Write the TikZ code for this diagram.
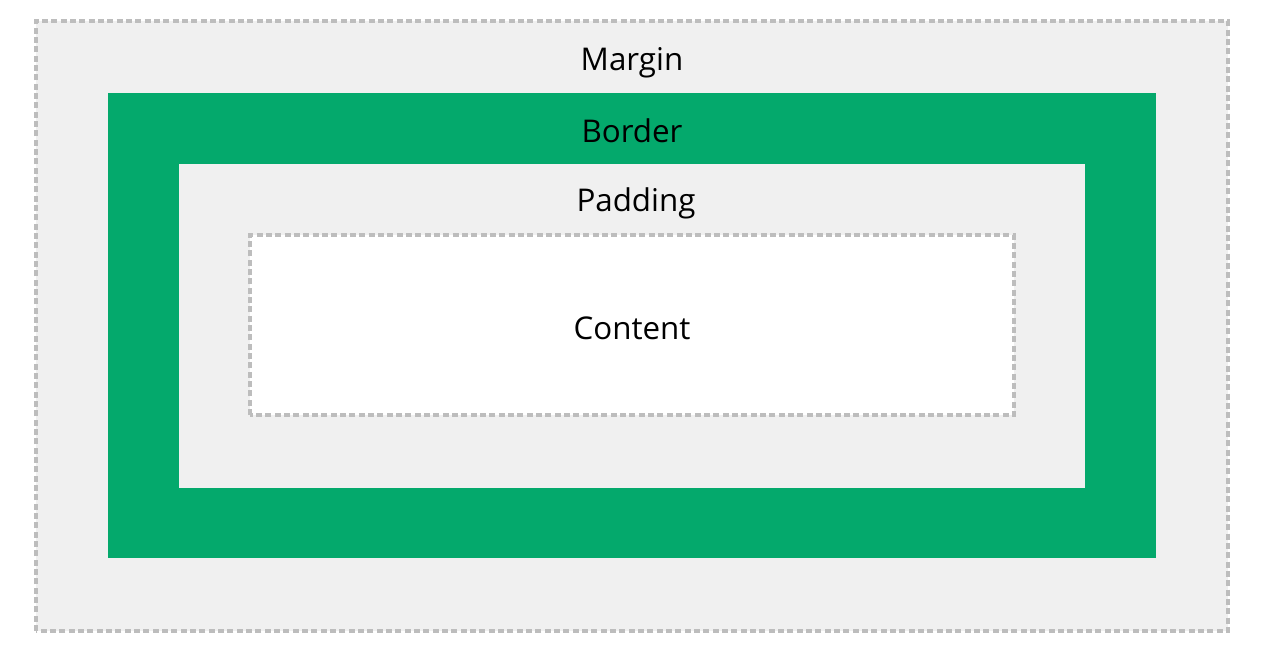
\documentclass[tikz,border=0pt]{standalone}
\usepackage{fontspec}
\setmainfont{Open Sans}
\definecolor{boxgris}{HTML}{F0F0F0}
\definecolor{bordegris}{HTML}{BDBDBD}
\definecolor{bordeverde}{HTML}{04A96C}
\begin{document}
\begin{tikzpicture}[x=0.75pt,y=0.75pt,
        caja/.style={draw=bordegris,line width=2.4pt,dash pattern=on 4.5pt off 2.5pt},
        etiqueta/.style={font=\fontsize{23.5}{28}\selectfont,text=black}]
        % Marco de la figura
        \useasboundingbox (0,0) rectangle (1263,654);
        % Margen (exterior, linea discontinua)
        \fill[boxgris] (36,23) rectangle (1228,633);
        \draw[caja] (36,23) rectangle (1228,633);
        % Borde (verde)
        \fill[bordeverde] (108,96) rectangle (1156,561);
        % Relleno
        \fill[boxgris] (179,166) rectangle (1085,490);
        % Contenido (blanco, linea discontinua)
        \fill[white] (250,239) rectangle (1014,419);
        \draw[caja] (250,239) rectangle (1014,419);
        % Textos
        \node[etiqueta] (margin) at (632,591) {Margin};
        \node[etiqueta] (border) at (632,523) {Border};
        \node[etiqueta] (padding) at (636,451) {Padding};
        \node[etiqueta] (content) at (632,326) {Content};
    \end{tikzpicture}
\end{document}
